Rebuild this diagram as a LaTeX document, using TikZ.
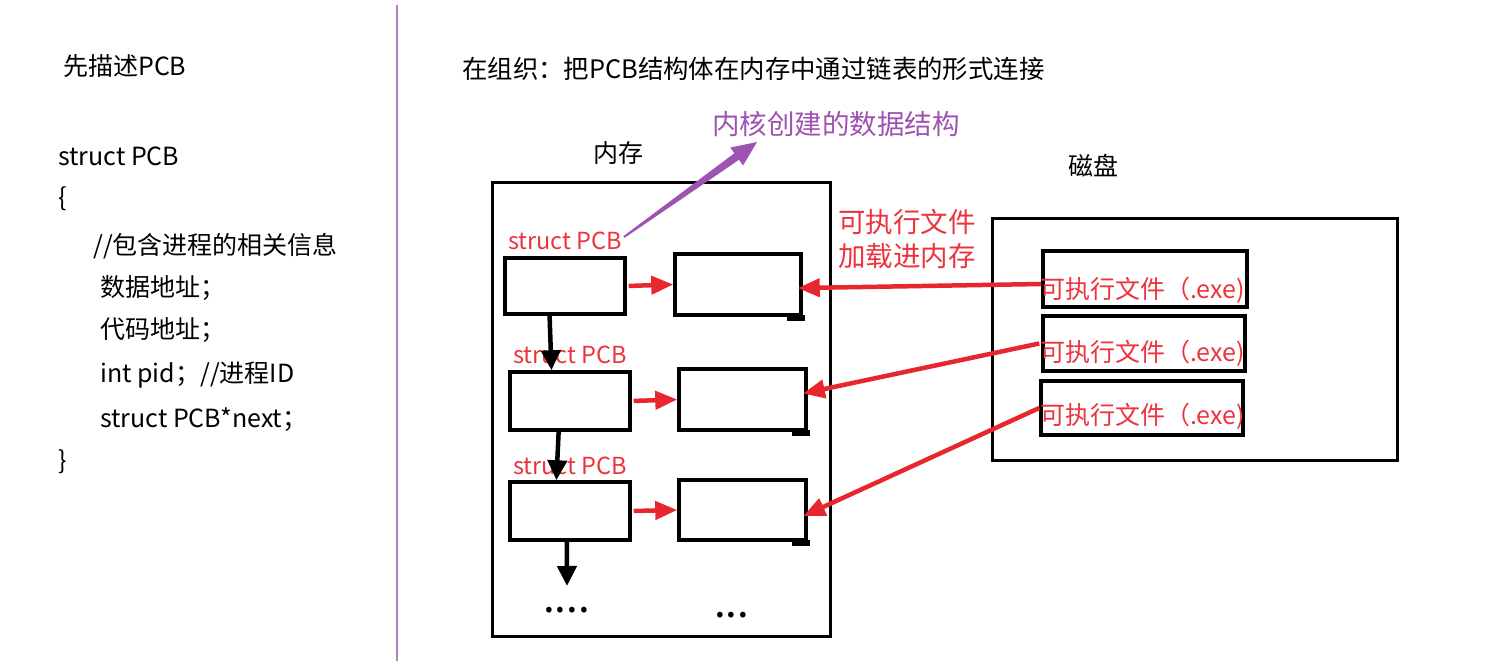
\documentclass[tikz,border=0pt]{standalone}
\usepackage{fontspec}
\newfontfamily\cjk{Noto Sans CJK SC}
\usetikzlibrary{arrows.meta,calc}
\definecolor{myred}{RGB}{232,38,45}
\definecolor{redtext}{RGB}{236,52,60}
\definecolor{mypurple}{RGB}{158,82,178}
\definecolor{divline}{RGB}{175,125,195}
\begin{document}
\begin{tikzpicture}[x=1pt,y=-1pt,
  txt/.style={anchor=base west,inner sep=0pt,font=\cjk\fontsize{25}{30}\selectfont},
  redtxt/.style={txt,text=redtext},
  pcblabel/.style={txt,text=redtext,font=\cjk\fontsize{23.5}{28}\selectfont},
  box/.style={draw,line width=3.5pt,inner sep=0pt},
  redarr/.style={draw=myred,line width=4.5pt,-{Triangle[length=22pt,width=18pt]}},
  blkarr/.style={draw=black,line width=4.5pt,-{Triangle[length=20pt,width=19pt]}},
  dots/.style={anchor=base west,inner sep=0pt,font=\cjk\fontsize{42}{42}\selectfont}]
\useasboundingbox (0,0) rectangle (1497,661);
\fill[white] (0,0) rectangle (1497,661);

% divider
\coordinate (dtop) at (397,5);
\coordinate (dbot) at (397,661);
\draw[divline,line width=1.5pt] (dtop) -- (dbot);

% left code
\node[txt] (t0) at (63,75) {先描述PCB};
\node[txt] (t1) at (58,165) {struct PCB};
\node[txt] (t2) at (58,206) {\{};
\node[txt] (t3) at (93,254) {//包含进程的相关信息};
\node[txt] (t4) at (100,296) {数据地址；};
\node[txt] (t5) at (100,338) {代码地址；};
\node[txt] (t6) at (100,382) {int pid；//进程ID};
\node[txt] (t7) at (100,427) {struct PCB*next；};
\node[txt] (t8) at (58,469) {\}};

% titles
\node[txt,font=\cjk\fontsize{25.4}{30}\selectfont] (title) at (462,79) {在组织：把PCB结构体在内存中通过链表的形式连接};
\node[txt,text=mypurple,font=\cjk\fontsize{27.5}{32}\selectfont] (kern) at (712,134) {内核创建的数据结构};
\node[txt] (memlbl) at (593,162) {内存};
\node[txt] (disklbl) at (1068,175) {磁盘};
\node[redtxt,font=\cjk\fontsize{27.5}{32}\selectfont] (load1) at (838,232) {可执行文件};
\node[redtxt,font=\cjk\fontsize{27.5}{32}\selectfont] (load2) at (838,266) {加载进内存};

% memory and disk frames
\node[box,line width=3pt,minimum width=338pt,minimum height=454pt] (mem) at (661,409) {};
\node[box,line width=3pt,minimum width=405pt,minimum height=242pt] (disk) at (1194.5,339) {};

% PCB boxes
\node[box,minimum width=120pt,minimum height=56pt] (p1) at (565,286) {};
\node[box,minimum width=120pt,minimum height=58pt] (p2) at (570,401) {};
\node[box,minimum width=120pt,minimum height=58pt] (p3) at (570,511) {};
% data boxes
\node[box,minimum width=126pt,minimum height=61pt] (m1) at (738,284.5) {};
\node[box,minimum width=127pt,minimum height=61pt] (m2) at (742.5,399.5) {};
\node[box,minimum width=127pt,minimum height=60pt] (m3) at (742.5,510) {};
\fill ($(m1.south east)+(-16,-2)$) rectangle ($(m1.south east)+(1.75,4)$);
\fill ($(m2.south east)+(-16,-2)$) rectangle ($(m2.south east)+(1.75,4)$);
\fill ($(m3.south east)+(-16,-2)$) rectangle ($(m3.south east)+(1.75,4)$);

% exe boxes
\node[box,minimum width=204pt,minimum height=56pt] (e1) at (1145,279) {};
\node[box,minimum width=202pt,minimum height=55pt] (e2) at (1144,343.5) {};
\node[box,minimum width=202pt,minimum height=54pt] (e3) at (1142,408) {};
\node[redtxt] (x1) at (1040,298) {可执行文件（.exe)};
\node[redtxt] (x2) at (1040,361) {可执行文件（.exe)};
\node[redtxt] (x3) at (1040,424) {可执行文件（.exe)};

% struct PCB labels
\node[pcblabel] (s1) at (508,249) {struct PCB};
\node[pcblabel] (s2) at (513,363) {struct PCB};
\node[pcblabel] (s3) at (513,474) {struct PCB};

% dots
\node[dots] (dl) at (543,612) {....};
\node[dots] (dr) at (714,617) {...};

% red horizontal arrows
\draw[redarr,shorten <=2pt] (p1.east) -- (m1.west);
\draw[redarr,shorten <=2pt] (p2.east) -- (m2.west);
\draw[redarr,shorten <=2pt] (p3.east) -- (m3.west);

% black linked-list arrows
\draw[blkarr] ($(p1.south west)!0.375!(p1.south east)$) -- ($(p2.north west)!0.35!(p2.north east)$);
\draw[blkarr] ($(p2.south west)!0.408!(p2.south east)$) -- ($(p3.north west)!0.39!(p3.north east)$);
\coordinate (more) at (567,586);
\draw[blkarr] ($(p3.south west)!0.475!(p3.south east)$) -- (more);

% loading arrows
\draw[redarr,shorten >=-5pt] ($(e1.west)+(0,5)$) -- ($(m1.east)+(0,3.5)$);
\draw[redarr,shorten >=-5pt] ($(e2.west)+(-2,0)$) -- ($(m2.east)+(0,-7)$);
\draw[redarr,shorten >=-5pt] ($(e3.west)+(0,0)$) -- ($(m3.east)+(0,4)$);

% purple tapered arrow
\coordinate (ks) at (624,237);
\coordinate (kt) at (757,142);
\coordinate (hb) at ($(kt)!25pt!(ks)$);
\fill[mypurple] ($(ks)!1pt!90:(kt)$) -- ($(hb)!4pt!-90:(ks)$) -- ($(hb)!11pt!-90:(ks)$) -- (kt)
  -- ($(hb)!11pt!90:(ks)$) -- ($(hb)!4pt!90:(ks)$) -- ($(ks)!1pt!-90:(kt)$) -- cycle;
\end{tikzpicture}
\end{document}
